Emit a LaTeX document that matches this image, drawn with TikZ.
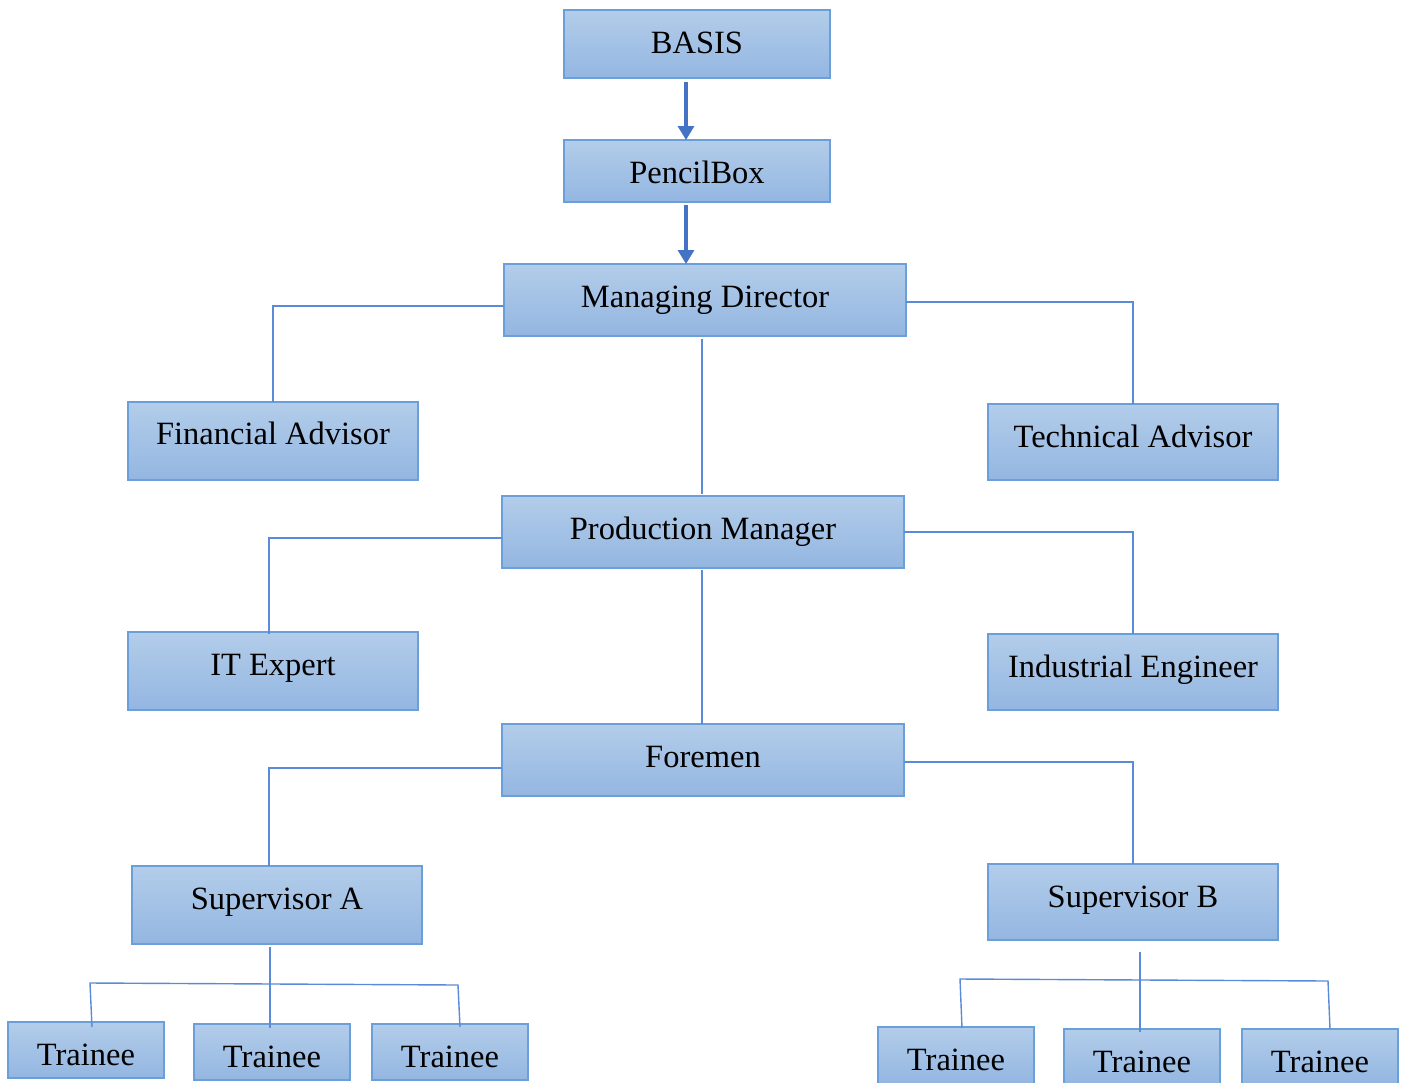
\documentclass[tikz,border=0pt]{standalone}
\usepackage{fontspec}
\setmainfont{Liberation Serif}
\usetikzlibrary{arrows.meta}
\definecolor{boxtop}{HTML}{B3CDEA}
\definecolor{boxbot}{HTML}{93B6E1}
\definecolor{boxline}{HTML}{6A9FDA}
\definecolor{connc}{HTML}{5A8BD6}
\definecolor{arrc}{HTML}{4472C4}
\tikzset{
  box/.style={rectangle, draw=boxline, line width=1.3pt, top color=boxtop, bottom color=boxbot, inner sep=0pt, outer sep=0pt},
  lab/.style={anchor=base, inner sep=0pt, font=\fontsize{32.5}{38}\selectfont, text=black},
  conn/.style={draw=connc, line width=1.4pt},
  arr/.style={draw=arrc, fill=arrc, line width=3.2pt, -{Triangle[width=16pt,length=14pt]}}
}
\newcommand\obox[7]{%
  \node[box, minimum width={#4-#2}, minimum height={#5-#3}] (#1) at ({(#2+#4)/2},{(#3+#5)/2}) {};
  \node[lab] (#1-t) at ({(#2+#4)/2},#6) {#7};}
\begin{document}
\begin{tikzpicture}[x=1pt,y=-1pt]
\useasboundingbox (0,0) rectangle (1402,1082);
\obox{basis}{564}{10}{830}{78}{53}{BASIS}
\obox{pencil}{564}{140}{830}{202}{183}{PencilBox}
\obox{md}{504}{264}{906}{336}{307}{Managing Director}
\obox{fa}{128}{402}{418}{480}{444}{Financial Advisor}
\obox{ta}{988}{404}{1278}{480}{447}{Technical Advisor}
\obox{pm}{502}{496}{904}{568}{539}{Production Manager}
\obox{it}{128}{632}{418}{710}{675}{IT Expert}
\obox{ie}{988}{634}{1278}{710}{677}{Industrial Engineer}
\obox{fm}{502}{724}{904}{796}{767}{Foremen}
\obox{sa}{132}{866}{422}{944}{909}{Supervisor A}
\obox{sb}{988}{864}{1278}{940}{907}{Supervisor B}
\obox{t1}{8}{1022}{164}{1078}{1065}{Trainee}
\obox{t2}{194}{1024}{350}{1080}{1067}{Trainee}
\obox{t3}{372}{1024}{528}{1080}{1067}{Trainee}
\obox{t4}{878}{1027}{1034}{1084}{1070}{Trainee}
\obox{t5}{1064}{1029}{1220}{1084}{1072}{Trainee}
\obox{t6}{1242}{1029}{1398}{1084}{1072}{Trainee}
% arrows
\coordinate (a1s) at (686,82);
\coordinate (a2s) at (686,205);
\draw[arr] (a1s) -- (686,142 |- pencil.north);
\draw[arr] (a2s) -- (686,264 |- md.north);
% managing director
\draw[conn] ([yshift=-6pt]md.west) -| (fa.north);
\draw[conn] ([yshift=-2pt]md.east) -| (ta.north);
\draw[conn] ([xshift=-3pt,yshift=-3pt]md.south) -- ([xshift=-1pt,yshift=2pt]pm.north);
% production manager
\draw[conn] ([yshift=-6pt]pm.west) -| ([xshift=-4pt,yshift=-2pt]it.north);
\draw[conn] (pm.east) -| (ie.north);
\draw[conn] ([xshift=-1pt,yshift=-2pt]pm.south) -- ([xshift=-1pt]fm.north);
% foremen
\draw[conn] ([yshift=-8pt]fm.west) -| ([xshift=-8pt]sa.north);
\draw[conn] ([yshift=-2pt]fm.east) -| (sb.north);
% supervisor A trainees
\coordinate (l1) at (90,983);
\coordinate (l2) at (458,985);
\coordinate (l1e) at (92,1027);
\coordinate (l3e) at (460,1027);
\draw[conn] ([xshift=-7pt,yshift=-3pt]sa.south) -- ([xshift=-2pt,yshift=-4pt]t2.north);
\draw[conn] (l1e) -- (l1) -- (l2) -- (l3e);
% supervisor B trainees
\coordinate (r1) at (960,979);
\coordinate (r2) at (1328,981);
\coordinate (r1e) at (962,1028);
\coordinate (r3e) at (1330,1029);
\draw[conn] ([xshift=7pt,yshift=-12pt]sb.south) -- ([xshift=-2pt,yshift=-3pt]t5.north);
\draw[conn] (r1e) -- (r1) -- (r2) -- (r3e);
\end{tikzpicture}
\end{document}
